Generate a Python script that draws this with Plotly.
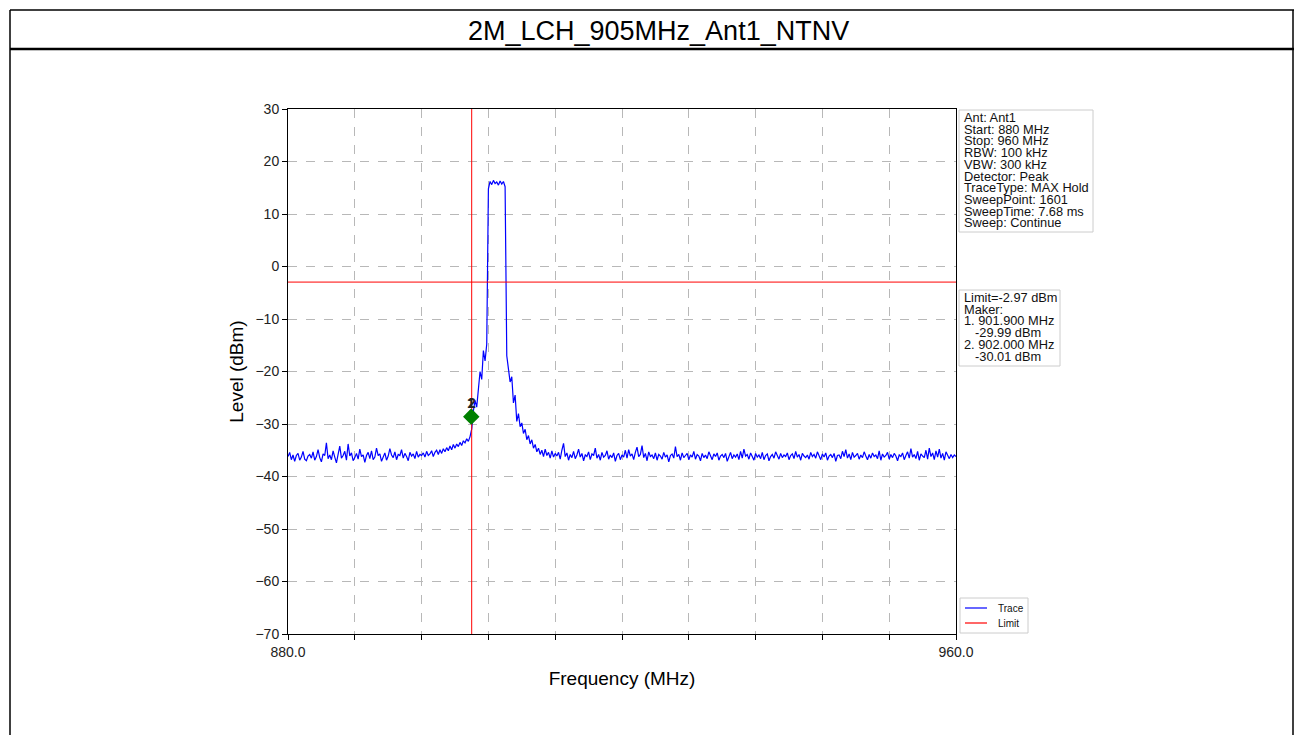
import numpy as np
import plotly.graph_objects as go

# ---------------- data ----------------
TITLE = "2M_LCH_905MHz_Ant1_NTNV"
START_MHZ = 880.0
STOP_MHZ = 960.0
STEP_MHZ = 0.2
LIMIT_DBM = -2.97
MARKER_LINE_FREQ = 902.0
MARKER_FREQS = [901.9, 902.0]
MARKER_LEVELS = [-28.6, -28.6]
MARKER_LABELS = ["1", "2"]
X_TICKS = [880, 888, 896, 904, 912, 920, 928, 936, 944, 952, 960]
X_TICK_TEXT = ["880.0", "", "", "", "", "", "", "", "", "", "960.0"]
Y_TICKS = [-70, -60, -50, -40, -30, -20, -10, 0, 10, 20, 30]

# trace, 0.2 MHz per point
noise_left = [
    -36.2, -35.4, -36.8, -35.9, -37.1, -36.0, -35.6, -36.9, -36.3, -35.2,
    -36.7, -37.0, -36.1, -35.8, -36.5, -35.3, -36.9, -36.2, -34.9, -36.4,
    -37.2, -35.7, -36.0, -33.6, -36.6, -35.9, -36.8, -35.1, -36.3, -37.4,
    -35.8, -34.2, -36.5, -36.0, -35.2, -36.9, -33.8, -36.1, -35.5, -37.0,
    -36.4, -35.6, -36.7, -34.8, -36.2, -35.9, -37.3, -36.0, -35.4, -36.6,
    -35.1, -36.8, -36.3, -34.6, -36.0, -35.7, -37.1, -36.2, -35.5, -36.9,
    -36.1, -34.7, -35.9, -36.4, -35.3, -36.8, -35.8, -36.0, -34.9, -36.5,
    -35.6, -36.2, -37.0, -35.4, -36.1, -35.7, -36.6, -35.2, -36.3, -35.8, -36.0,
]
rise_left = [
    -35.5, -36.3, -35.2, -36.0, -35.7, -35.1, -36.2, -35.4, -35.0, -35.8,
    -34.9, -35.6, -34.7, -35.3, -34.5, -35.1, -34.2, -34.9, -33.9, -34.6,
    -33.8, -34.3, -33.5, -34.1, -33.2, -33.6, -32.8, -33.3, -32.4,
]
skirt_left = [-31.0, -27.5, -25.5, -26.8, -22.5, -20.0, -21.5, -16.0, -18.0, -14.8]
channel_top = [14.8, 16.2, 15.6, 16.4, 15.8, 16.1, 15.5, 16.3, 15.7, 16.2, 15.2]
skirt_right = [
    -17.0, -19.5, -22.0, -21.0, -26.0, -24.5, -29.5, -28.0, -30.5, -29.8,
    -31.8, -31.0, -33.0, -32.2, -33.8, -33.0, -34.6, -33.9, -35.3, -34.6,
    -35.8, -35.0, -36.2, -34.8, -36.0, -35.4, -36.5, -35.1, -36.3, -35.6,
]
noise_right = [
    -36.1, -35.4, -36.7, -35.0, -33.7, -36.2, -35.5, -36.9, -35.8, -36.4,
    -35.2, -36.6, -35.9, -34.8, -36.3, -35.6, -37.0, -35.9, -36.2, -35.3,
    -36.8, -35.7, -36.0, -34.6, -36.5, -35.8, -36.9, -35.4, -36.3, -36.0,
    -35.1, -36.7, -35.9, -36.4, -35.5, -37.1, -36.0, -35.6, -36.8, -35.9,
    -36.3, -35.0, -36.5, -34.9, -36.1, -35.7, -36.8, -35.4, -34.4, -36.2,
    -35.8, -34.1, -36.4, -35.6, -37.0, -35.3, -36.2, -35.9, -36.6, -35.5,
    -36.9, -35.8, -36.1, -36.7, -35.4, -36.3, -35.9, -37.2, -36.0, -35.7,
    -36.5, -34.3, -36.2, -35.8, -36.9, -35.5, -36.4, -36.0, -35.6, -36.8,
    -35.9, -36.3, -35.2, -36.7, -35.8, -36.1, -37.0, -35.6, -36.4, -35.9,
    -36.6, -35.3, -36.0, -36.8, -35.7, -36.2, -35.5, -36.9, -36.1, -35.8,
    -36.4, -35.6, -37.1, -36.0, -35.4, -36.6, -35.9, -36.3, -35.7, -36.8,
    -35.2, -36.5, -34.8, -36.1, -35.8, -36.7, -35.5, -36.2, -36.9, -35.6,
    -36.3, -35.9, -36.6, -35.4, -36.8, -36.0, -35.7, -37.0, -36.2, -35.8,
    -36.5, -35.3, -36.1, -36.7, -35.6, -36.4, -35.9, -36.2, -35.5, -36.8,
    -36.0, -35.7, -36.6, -35.2, -36.3, -35.8, -36.9, -35.6, -36.1, -36.4,
    -35.9, -36.7, -35.4, -36.2, -35.8, -36.5, -35.3, -36.0, -36.8, -35.7,
    -36.3, -35.5, -36.9, -36.1, -35.8, -36.4, -35.6, -37.1, -36.0, -35.9,
    -36.6, -35.2, -36.2, -34.9, -36.5, -35.7, -36.8, -35.4, -36.3, -36.0,
    -35.6, -36.7, -35.9, -36.4, -35.3, -36.1, -36.8, -35.8, -36.5, -35.5,
    -36.2, -35.9, -36.6, -35.1, -36.9, -35.7, -36.3, -36.0, -35.4, -36.7,
    -35.8, -36.4, -35.6, -36.1, -37.0, -35.9, -36.2, -35.5, -36.8, -36.0,
    -35.3, -36.5, -34.7, -36.3, -35.8, -36.6, -35.2, -36.9, -35.7, -36.1,
    -36.4, -35.0, -36.7, -34.6, -36.2, -35.5, -36.8, -35.1, -36.3, -34.8,
    -36.5, -35.6, -36.9, -35.3, -36.0, -36.6, -35.8, -36.4, -35.9, -36.2,
]

INFO_LINES = [
    "Ant: Ant1", "Start: 880 MHz", "Stop: 960 MHz", "RBW: 100 kHz", "VBW: 300 kHz",
    "Detector: Peak", "TraceType: MAX Hold", "SweepPoint: 1601",
    "SweepTime: 7.68 ms", "Sweep: Continue",
]
MARKER_INFO_LINES = [
    "Limit=-2.97 dBm", "Maker:", "1. 901.900 MHz", "   -29.99 dBm",
    "2. 902.000 MHz", "   -30.01 dBm",
]
LEGEND_NAMES = ["Trace", "Limit"]
LEGEND_COLORS = ["#0000ff", "#ff0000"]

level = noise_left + rise_left + skirt_left + channel_top + skirt_right + noise_right
freq = START_MHZ + STEP_MHZ * np.arange(len(level))

# ---------------- layout helpers (pixel positions) ----------------
W, H = 1294, 735
PL, PR, PT, PB = 288, 956, 109, 634
FONT = "Arial, 'Liberation Sans', sans-serif"


def px(x):
    return (x - PL) / (PR - PL)


def py(y):
    return (PB - y) / (PB - PT)


fig = go.Figure()
fig.add_trace(go.Scatter(x=freq, y=level, mode="lines",
                         line=dict(color="#0000ff", width=1.2), name="Trace"))
fig.add_trace(go.Scatter(x=[START_MHZ, STOP_MHZ], y=[LIMIT_DBM, LIMIT_DBM], mode="lines",
                         line=dict(color="#ff0000", width=1), name="Limit"))
fig.add_trace(go.Scatter(x=[MARKER_LINE_FREQ, MARKER_LINE_FREQ], y=[Y_TICKS[0], Y_TICKS[-1]],
                         mode="lines", line=dict(color="#ff0000", width=1)))
fig.add_trace(go.Scatter(x=MARKER_FREQS, y=MARKER_LEVELS, mode="markers",
                         marker=dict(symbol="diamond", size=12, color="#008000",
                                     line=dict(width=0))))

annotations = []
for f, lv, lab in zip(MARKER_FREQS, MARKER_LEVELS, MARKER_LABELS):
    annotations.append(dict(x=f, y=lv, xref="x", yref="y", text="<b>%s</b>" % lab, showarrow=False,
                            yshift=14, font=dict(size=14, color="#222222", family=FONT)))

shapes = []
# outer frame and title bar
shapes.append(dict(type="line", xref="paper", yref="paper", x0=px(10), x1=px(10), y0=py(10), y1=py(740),
                   line=dict(color="black", width=1.5)))
shapes.append(dict(type="line", xref="paper", yref="paper", x0=px(1293), x1=px(1293), y0=py(10), y1=py(740),
                   line=dict(color="black", width=1.5)))
shapes.append(dict(type="line", xref="paper", yref="paper", x0=px(10), x1=px(1294), y0=py(10), y1=py(10),
                   line=dict(color="black", width=1.5)))
shapes.append(dict(type="line", xref="paper", yref="paper", x0=px(10), x1=px(1294), y0=py(49), y1=py(49),
                   line=dict(color="black", width=2.5)))
# info boxes
shapes.append(dict(type="rect", xref="paper", yref="paper", x0=px(959), x1=px(1093), y0=py(232), y1=py(110),
                   line=dict(color="#cccccc", width=1), fillcolor="white", layer="below"))
shapes.append(dict(type="rect", xref="paper", yref="paper", x0=px(959), x1=px(1060), y0=py(366), y1=py(290),
                   line=dict(color="#cccccc", width=1), fillcolor="white", layer="below"))
shapes.append(dict(type="rect", xref="paper", yref="paper", x0=px(960), x1=px(1028), y0=py(633), y1=py(598),
                   line=dict(color="#cccccc", width=1), fillcolor="white", layer="below"))
for i, c in enumerate(LEGEND_COLORS):
    yy = 608 + 15 * i
    shapes.append(dict(type="line", xref="paper", yref="paper", x0=px(965), x1=px(987), y0=py(yy), y1=py(yy),
                       line=dict(color=c, width=1.2)))

annotations.append(dict(text=TITLE, xref="paper", yref="paper", x=px(658), y=py(31), xanchor="center",
                        yanchor="middle", showarrow=False, font=dict(size=27, color="black", family=FONT)))
for i, t in enumerate(INFO_LINES):
    annotations.append(dict(text=t, xref="paper", yref="paper", x=px(962), y=py(117.5 + 11.7 * i),
                            xanchor="left", yanchor="middle", showarrow=False,
                            font=dict(size=12.8, color="#111111", family=FONT)))
for i, t in enumerate(MARKER_INFO_LINES):
    indent = t.startswith(" ")
    annotations.append(dict(text=t.strip(), xref="paper", yref="paper", x=px(973 if indent else 962),
                            y=py(297.5 + 11.7 * i), xanchor="left", yanchor="middle", showarrow=False,
                            font=dict(size=12.8, color="#111111", family=FONT)))
for i, t in enumerate(LEGEND_NAMES):
    annotations.append(dict(text=t, xref="paper", yref="paper", x=px(996), y=py(608 + 15 * i),
                            xanchor="left", yanchor="middle", showarrow=False,
                            font=dict(size=10, color="#111111", family=FONT)))

fig.update_layout(
    width=W, height=H,
    margin=dict(l=PL, r=W - PR, t=PT, b=H - PB, pad=0),
    paper_bgcolor="white", plot_bgcolor="white",
    showlegend=False,
    font=dict(family=FONT, color="black"),
    shapes=shapes, annotations=annotations,
)
axis_common = dict(showline=True, linecolor="black", linewidth=1, mirror=True,
                   ticks="outside", ticklen=5, tickcolor="black", tickwidth=1,
                   showgrid=True, gridcolor="#b8b8b8", griddash="dash", gridwidth=0.8,
                   zeroline=False, tickfont=dict(size=14, color="#222222", family=FONT))
fig.update_xaxes(range=[START_MHZ, STOP_MHZ], tickvals=X_TICKS, ticktext=X_TICK_TEXT,
                 title=dict(text="Frequency (MHz)", font=dict(size=19, color="black"), standoff=12),
                 **axis_common)
fig.update_yaxes(range=[Y_TICKS[0], Y_TICKS[-1]], tickvals=Y_TICKS,
                 title=dict(text="Level (dBm)", font=dict(size=19, color="black"), standoff=6),
                 **axis_common)

fig.write_html("out.html", config={"displayModeBar": False},
               post_script="document.body.style.margin='0';")
